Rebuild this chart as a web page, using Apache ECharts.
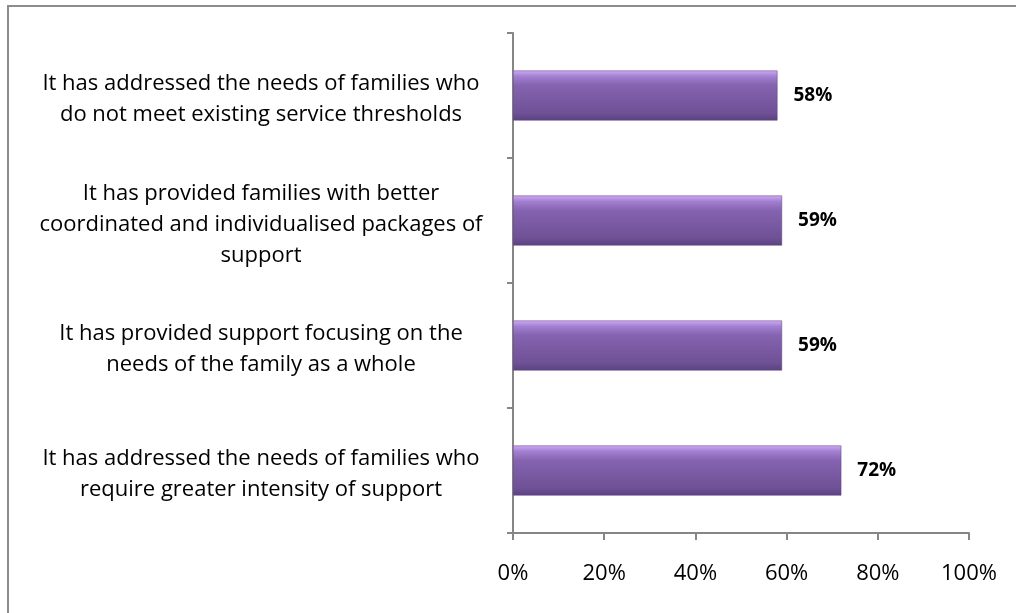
<!DOCTYPE html>
<html>
<head>
<meta charset="utf-8">
<script src="https://cdn.jsdelivr.net/npm/echarts@6/dist/echarts.min.js"></script>
<style>
  html, body { margin: 0; padding: 0; background: #fff; }
  #chart { width: 1016px; height: 613px; }
</style>
</head>
<body>
<div id="chart"></div>
<script>
// categories listed bottom to top (ECharts category y-axis starts at the bottom)
var categories = [
  'It has addressed the needs of families who\nrequire greater intensity of support',
  'It has provided support focusing on the\nneeds of the family as a whole',
  'It has provided families with better\ncoordinated and individualised packages of\nsupport',
  'It has addressed the needs of families who\ndo not meet existing service thresholds'
]
var values = [72, 59, 59, 58]
var tickLabels = ['0%', '20%', '40%', '60%', '80%', '100%']

var FONT = 'Open Sans'

var myChart = echarts.init(document.getElementById('chart'))

// purple bar with a light top edge, like the bevelled bars in the picture
var barColor = new echarts.graphic.LinearGradient(0, 0, 0, 1, [
  { offset: 0, color: '#cfaaf7' },
  { offset: 0.12, color: '#a27fd0' },
  { offset: 0.3, color: '#8563b0' },
  { offset: 0.85, color: '#6f5196' },
  { offset: 1, color: '#5b4280' }
])

myChart.setOption({
  animation: false,
  graphic: [{
    type: 'rect',
    shape: { x: 8, y: 6, width: 1030, height: 640 },
    style: { fill: 'none', stroke: '#8c8c8c', lineWidth: 2 },
    silent: true
  }],
  grid: { left: 513, right: 47, top: 33, bottom: 80 },
  xAxis: {
    type: 'value',
    min: 0,
    max: 100,
    interval: 20,
    splitLine: { show: false },
    axisLine: { show: true, lineStyle: { color: '#868686', width: 2 } },
    axisTick: { show: true, length: 7, lineStyle: { color: '#868686', width: 2 } },
    axisLabel: {
      margin: 30,
      color: '#000',
      fontFamily: FONT,
      fontSize: 22,
      formatter: function (v) { return tickLabels[v / 20] }
    }
  },
  yAxis: {
    type: 'category',
    data: categories,
    axisLine: { show: true, lineStyle: { color: '#868686', width: 2 } },
    axisTick: { show: true, length: 6, lineStyle: { color: '#868686', width: 2 } },
    axisLabel: {
      margin: 22,
      formatter: function (v) { return '{t|' + v + '}' },
      rich: {
        t: {
          width: 460,
          align: 'center',
          color: '#000',
          fontFamily: FONT,
          fontSize: 22,
          lineHeight: 31,
          padding: [8, 0, 0, 0]
        }
      }
    }
  },
  series: [{
    type: 'bar',
    data: values,
    barCategoryGap: '60%',
    itemStyle: { color: barColor, borderColor: '#5a417e', borderWidth: 0.5 },
    label: {
      show: true,
      position: 'right',
      distance: 16,
      color: '#000',
      fontFamily: FONT,
      fontWeight: 'bold',
      fontSize: 19,
      formatter: '{c}%'
    }
  }]
})
</script>
</body>
</html>
